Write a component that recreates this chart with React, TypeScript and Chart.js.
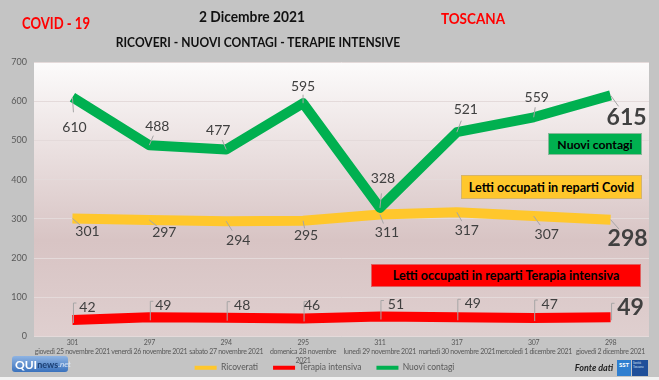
import React, { useEffect, useRef } from "react";
import { Chart, registerables } from "chart.js";

Chart.register(...registerables);

// ---- DATA ----
const dayLabels: string[][] = [
  ["giovedì 25 novembre 2021"],
  ["venerdì 26 novembre 2021"],
  ["sabato 27 novembre 2021"],
  ["domenica 28 novembre", "2021"],
  ["lunedì 29 novembre 2021"],
  ["martedì 30 novembre 2021"],
  ["mercoledì 1 dicembre 2021"],
  ["giovedì 2 dicembre 2021"],
];
const ricoverati = [301, 297, 294, 295, 311, 317, 307, 298];
const terapiaIntensiva = [42, 49, 48, 46, 51, 49, 47, 49];
const nuoviContagi = [610, 488, 477, 595, 328, 521, 559, 615];
const yMin = 0;
const yMax = 700;
const yStep = 100;

// ---- LAYOUT CONFIG (label placement, not data) ----
const offsetsContagi = [[2, 30], [8, -19], [-8, -19], [0, -17], [3, -29], [9, -23], [3, -20], [16, 22]];
const offsetsRicoverati = [[15, 13], [15, 12], [12, 19], [3, 15], [7, 18], [10, 18], [13, 18], [17, 19]];
const offsetsTerapia = [[15, -13], [14, -12], [16, -12], [9, -13], [16, -12], [16, -14], [16, -14], [20, -10]];

const FONT = "Lato, 'Noto Sans', sans-serif";

const plotBg = {
  id: "plotBg",
  beforeDraw(chart: any) {
    const { ctx, chartArea } = chart;
    const { left, top, right, bottom } = chartArea;
    const g = ctx.createLinearGradient(0, top, 0, bottom);
    g.addColorStop(0, "#fcfbfb");
    g.addColorStop(0.65, "#d8c4c4");
    g.addColorStop(1, "#dfcfcf");
    ctx.save();
    ctx.fillStyle = g;
    ctx.fillRect(left, top, right - left, bottom - top);
    ctx.restore();
  },
};

const dataLabels = {
  id: "dataLabels",
  afterDatasetsDraw(chart: any) {
    const ctx = chart.ctx;
    chart.data.datasets.forEach((ds: any, di: number) => {
      const meta = chart.getDatasetMeta(di);
      const offs = ds.labelOffsets as number[][];
      const n = meta.data.length;
      meta.data.forEach((pt: any, i: number) => {
        const [dx, dy] = offs[i];
        const big = i === n - 1;
        const lx = pt.x + dx;
        const ly = pt.y + dy;
        ctx.save();
        ctx.strokeStyle = "#a6a6a6";
        ctx.lineWidth = 1;
        ctx.beginPath();
        if (ds.leader === "elbow") {
          ctx.moveTo(pt.x + 1, pt.y + 3);
          ctx.lineTo(pt.x + 1, ly - 4);
          ctx.lineTo(pt.x + 4, ly - 4);
        } else {
          ctx.moveTo(pt.x, pt.y);
          ctx.lineTo(pt.x + dx * 0.5, pt.y + dy * 0.5);
        }
        ctx.stroke();
        ctx.font = big ? `bold 23px ${FONT}` : `14px ${FONT}`;
        ctx.fillStyle = "#404040";
        ctx.textAlign = "center";
        ctx.textBaseline = "middle";
        ctx.fillText(String(ds.data[i]), lx, ly);
        ctx.restore();
      });
    });
  },
};

export default function App() {
  const ref = useRef<HTMLCanvasElement | null>(null);

  useEffect(() => {
    if (!ref.current) return;
    const labels = dayLabels.map((d, i) => [String(ricoverati[i]), ...d]);
    const chart = new Chart(ref.current, {
      type: "line",
      data: {
        labels,
        datasets: [
          {
            label: "Ricoverati",
            data: ricoverati,
            borderColor: "#ffc72c",
            backgroundColor: "#ffc72c",
            order: 1,
            labelOffsets: offsetsRicoverati,
            leader: "straight",
          } as any,
          {
            label: "Terapia intensiva",
            data: terapiaIntensiva,
            borderColor: "#ff0000",
            backgroundColor: "#ff0000",
            order: 2,
            labelOffsets: offsetsTerapia,
            leader: "elbow",
          } as any,
          {
            label: "Nuovi contagi",
            data: nuoviContagi,
            borderColor: "#00b050",
            backgroundColor: "#00b050",
            order: 0,
            labelOffsets: offsetsContagi,
            leader: "straight",
          } as any,
        ],
      },
      options: {
        animation: false,
        responsive: false,
        maintainAspectRatio: false,
        layout: { padding: { top: 62, right: 10, left: 0, bottom: -2 } },
        elements: {
          line: { borderWidth: 10, tension: 0, borderCapStyle: "butt", borderJoinStyle: "round", fill: false },
          point: { radius: 0, hoverRadius: 0 },
        },
        scales: {
          x: {
            offset: true,
            grid: { display: false, drawTicks: false },
            border: { display: false },
            ticks: {
              autoSkip: false,
              maxRotation: 0,
              minRotation: 0,
              padding: 2,
              color: "#595959",
              font: { family: FONT, size: 7, lineHeight: 1.25 },
            },
            afterFit: (s: any) => {
              s.height = 12;
              s._computeLabelArea = () => undefined;
              if (!s.__wrapped) {
                const orig = s.draw;
                s.draw = function (area: any) {
                  const ctx = this.ctx as any;
                  const prev = ctx.letterSpacing;
                  ctx.letterSpacing = "-0.3px";
                  orig.call(this, area);
                  ctx.letterSpacing = prev || "0px";
                };
                s.__wrapped = true;
              }
            },
          },
          y: {
            min: yMin,
            max: yMax,
            ticks: { stepSize: yStep, color: "#595959", padding: 7, font: { family: FONT, size: 9 } },
            grid: { color: "#e4dada", lineWidth: 1, drawTicks: false },
            border: { display: false },
            afterFit: (s: any) => {
              s.width = 34;
            },
          },
        },
        plugins: {
          title: { display: false },
          tooltip: { enabled: false },
          legend: {
            position: "bottom",
            labels: {
              boxWidth: 22,
              boxHeight: 4,
              padding: 15,
              color: "#595959",
              font: { family: FONT, size: 8.5 },
              sort: (a: any, b: any) => a.datasetIndex - b.datasetIndex,
              generateLabels: (c: any) =>
                Chart.defaults.plugins.legend.labels
                  .generateLabels(c)
                  .map((l: any) => ({ ...l, lineWidth: 0 })),
            },
          },
        },
      } as any,
      plugins: [plotBg, dataLabels],
    });
    return () => chart.destroy();
  }, []);

  const abs = (x: number, y: number, sx: number): React.CSSProperties => ({
    position: "absolute",
    left: x,
    top: y,
    transform: `translate(-50%, -50%) scaleX(${sx})`,
    whiteSpace: "nowrap",
    fontFamily: FONT,
    fontWeight: 700,
    lineHeight: 1,
  });

  const box = (l: number, t: number, w: number, h: number, bg: string, bd: string, fs: number): React.CSSProperties => ({
    position: "absolute",
    left: l,
    top: t,
    width: w,
    height: h,
    background: bg,
    border: `1px solid ${bd}`,
    boxSizing: "border-box",
    display: "flex",
    alignItems: "center",
    justifyContent: "center",
    fontFamily: FONT,
    fontWeight: 700,
    fontSize: fs,
    color: "#000",
    whiteSpace: "nowrap",
  });

  return (
    <div style={{ position: "absolute", left: 0, top: 0, width: 659, height: 380, background: "#c4c4c4", overflow: "hidden" }}>
      <canvas ref={ref} width={659} height={380} style={{ position: "absolute", left: 0, top: 0, width: 659, height: 380 }} />
      <div style={{ ...abs(56, 22, 0.77), color: "#ff0000", fontSize: 17 }}>COVID - 19</div>
      <div style={{ ...abs(252, 17, 0.89), color: "#111", fontSize: 15.5 }}>2 Dicembre 2021</div>
      <div style={{ ...abs(258, 42, 0.86), color: "#111", fontSize: 14 }}>RICOVERI - NUOVI CONTAGI - TERAPIE INTENSIVE</div>
      <div style={{ ...abs(473, 19, 0.87), color: "#ff0000", fontSize: 15.5 }}>TOSCANA</div>

      <div style={box(548, 133, 94, 22, "#00b050", "#8ab89a", 12.2)}>Nuovi contagi</div>
      <div style={box(461, 175, 181, 24, "#ffc72c", "#d6b46a", 12.6)}>Letti occupati in reparti Covid</div>
      <div style={box(371, 264, 270, 23, "#ff0000", "#e06060", 12.6)}>Letti occupati in reparti Terapia intensiva</div>

      <div style={{ position: "absolute", left: 12, top: 356, width: 56, height: 16, borderRadius: 3, background: "linear-gradient(#8fb4e3, #3a72bd)", display: "flex", alignItems: "center", paddingLeft: 3, boxSizing: "border-box", fontFamily: FONT, fontWeight: 700, whiteSpace: "nowrap" }}>
        <span style={{ color: "#fff", fontSize: 12 }}>QUI</span>
        <span style={{ color: "#1b3f73", fontSize: 9 }}>news</span>
        <span style={{ color: "#dce8f7", fontSize: 8, fontWeight: 400, fontStyle: "italic" }}>.net</span>
      </div>

      <div style={{ ...abs(594, 367, 1), color: "#222", fontSize: 9, fontStyle: "italic" }}>Fonte dati</div>
      <div style={{ position: "absolute", left: 617, top: 360, width: 14, height: 16, background: "#2f7fd0", color: "#fff", fontFamily: FONT, fontWeight: 700, fontSize: 6, textAlign: "center", lineHeight: "9px" }}>SST</div>
      <div style={{ position: "absolute", left: 632, top: 360, width: 16, height: 16, background: "#1f4f9a", color: "#cfe0f5", fontFamily: FONT, fontSize: 3, lineHeight: "4px", padding: 1, boxSizing: "border-box" }}>Sanità Toscana</div>
      <div style={{ position: "absolute", left: 0, top: 377, width: 659, height: 3, background: "#f2f2f2" }} />
    </div>
  );
}
